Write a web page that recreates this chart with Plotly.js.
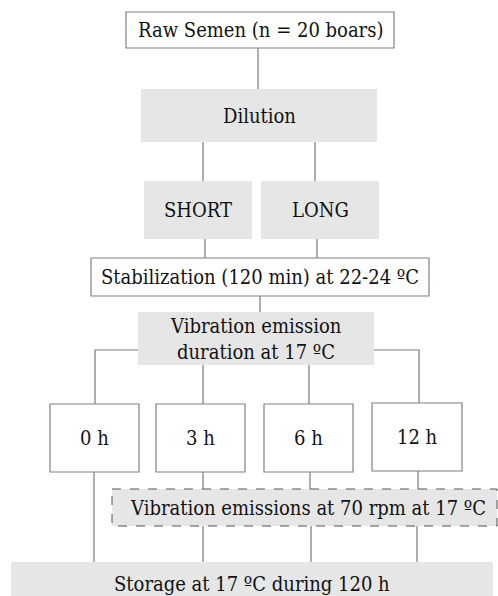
<!DOCTYPE html>
<html>
<head>
<meta charset="utf-8">
<script src="https://cdn.plot.ly/plotly-3.0.1.min.js"></script>
<style>html,body{margin:0;padding:0;background:#fff;}#chart{width:498px;height:596px;}</style>
</head>
<body>
<div id="chart"></div>
<script>
// Node labels (flowchart content)
const nodeLabels = [
  "Raw Semen (n = 20 boars)",
  "Dilution",
  "SHORT",
  "LONG",
  "Stabilization (120 min) at 22-24 ºC",
  "Vibration emission",
  "duration at 17 ºC",
  "0 h",
  "3 h",
  "6 h",
  "12 h",
  "Vibration emissions at 70 rpm at 17 ºC",
  "Storage at 17 ºC during 120 h"
];
// Box styles: 'white' = white box with border, 'gray' = gray fill, 'dash' = gray fill dashed border
const boxKinds = ["white","gray","gray","gray","white","gray","white","white","white","white","dash","gray"];

// Layout geometry (pixel coordinates): [x0, x1, y0, y1]
const boxes = [
  [126, 394, 12, 48],
  [141, 377, 89, 142],
  [144, 252, 181, 239],
  [261, 379, 181, 239],
  [91, 429, 258, 296],
  [138, 374, 312, 365],
  [50, 139, 404, 472],
  [156, 245, 404, 472],
  [264, 353, 404, 472],
  [372, 462, 403, 471],
  [112, 497, 489, 526],
  [11, 493, 562, 600]
];
// Label positions (pixel coordinates): [x, y]
const labelPos = [
  [260, 30], [259, 115.5], [198, 210], [320, 210], [260, 277],
  [256, 326], [256, 352],
  [94, 438], [200, 438], [308, 438], [417, 437],
  [308, 507.5], [252, 584]
];
// Connector polylines
const connectors = [
  [[258,48],[258,89]],
  [[203,142],[203,181]],
  [[315,142],[315,181]],
  [[205,239],[205,258]],
  [[317,239],[317,258]],
  [[260,296],[260,312]],
  [[138,350],[95,350],[95,404]],
  [[374,350],[419,350],[419,403]],
  [[203,365],[203,404]],
  [[309,365],[309,404]],
  [[94,472],[94,562]],
  [[203,472],[203,489]],
  [[310,472],[310,489]],
  [[418,471],[418,489]],
  [[203,526],[203,562]],
  [[311,526],[311,562]],
  [[417,526],[417,562]]
];

const FILL = "#e6e6e6";
const LINE = "#7a7a7a";
const FONT = "DejaVu Serif Condensed, DejaVu Serif";
const shapes = [];
connectors.forEach(pts => {
  let path = "M" + pts.map(p => p[0] + "," + p[1]).join(" L");
  shapes.push({type:"path", xref:"x", yref:"y", path:path, line:{color:LINE, width:1.2}});
});
boxes.forEach((b, i) => {
  const k = boxKinds[i];
  const s = {type:"rect", xref:"x", yref:"y", x0:b[0], x1:b[1], y0:b[2], y1:b[3], layer:"above"};
  if (k === "white") { s.fillcolor = "#ffffff"; s.line = {color:"#808080", width:1.2}; }
  else if (k === "gray") { s.fillcolor = FILL; s.line = {width:0}; }
  else { s.fillcolor = FILL; s.line = {color:"#555555", width:1, dash:"dash"}; }
  shapes.push(s);
});
const annotations = nodeLabels.map((t, i) => ({
  x: labelPos[i][0], y: labelPos[i][1], xref:"x", yref:"y", text:t, showarrow:false,
  font:{family:FONT, size:20, color:"#111"},
  xanchor:"center", yanchor:"middle"
}));

Plotly.newPlot("chart", [], {
  width:498, height:596,
  margin:{l:0, r:0, t:0, b:0},
  paper_bgcolor:"#fff", plot_bgcolor:"#fff",
  font:{family:FONT},
  xaxis:{range:[0,498], visible:false, fixedrange:true},
  yaxis:{range:[596,0], visible:false, fixedrange:true},
  shapes:shapes, annotations:annotations, showlegend:false
}, {staticPlot:true, displayModeBar:false});
</script>
</body>
</html>
